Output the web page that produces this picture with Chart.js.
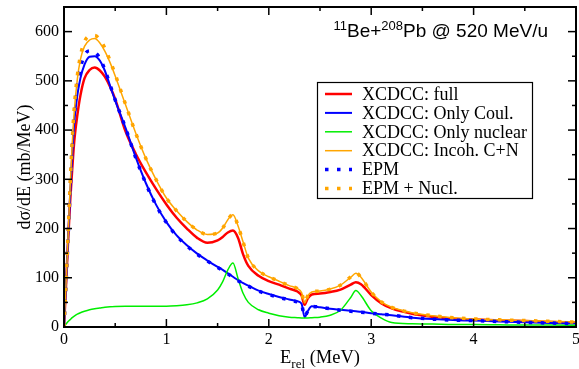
<!DOCTYPE html>
<html>
<head>
<meta charset="utf-8">
<script src="https://cdn.jsdelivr.net/npm/chart.js@4.4.1/dist/chart.umd.min.js"></script>
<style>
  html, body { margin: 0; padding: 0; background: #ffffff; }
  canvas { display: block; }
</style>
</head>
<body>
<canvas id="chart" width="579" height="369"></canvas>
<script>
// Relative energy grid (MeV)
const energies = [0, 0.02, 0.04, 0.06, 0.08, 0.1, 0.13, 0.16, 0.2, 0.25, 0.3,
  0.35, 0.4, 0.45, 0.5, 0.6, 0.7, 0.8, 0.9, 1.0, 1.1,
  1.2, 1.3, 1.4, 1.5, 1.55, 1.6, 1.65, 1.7, 1.75, 1.8,
  1.9, 2.0, 2.1, 2.2, 2.28, 2.32, 2.35, 2.38, 2.42, 2.5,
  2.6, 2.7, 2.8, 2.85, 2.9, 3.0, 3.1, 3.2, 3.4, 3.6,
  3.8, 4.0, 4.25, 4.5, 4.75, 5.0];

// dσ/dE (mb/MeV) for each calculation
const xcdccFull = [0, 85, 175, 255, 320, 377, 430, 470, 505, 522, 527,
  521, 508, 488, 463, 398, 352, 314, 280, 249, 222,
  200, 181, 171, 176, 183, 192, 196, 181, 147, 124,
  104, 93, 86, 78, 72, 64, 45, 58, 66, 68,
  71, 76, 86, 91, 87, 65, 48, 38, 27, 21,
  17, 15, 13, 12, 10, 9];

const xcdccCoulomb = [0, 87, 180, 270, 350, 415, 470, 505, 533, 549, 550,
  541, 520, 490, 460, 405, 345, 292, 248, 213, 186,
  166, 149, 135, 122, 116, 109, 102, 95, 89, 84,
  74, 67, 61, 56, 52, 47, 20, 32, 42, 40,
  37, 35, 33, 32, 31, 28, 26, 24, 19, 16,
  14, 13, 11, 9.5, 8, 7];

const xcdccNuclear = [0, 6, 11, 15, 19, 22, 26, 29, 32, 35, 37,
  38.5, 40, 41, 41.5, 42, 42, 42, 42, 42, 43,
  45, 49, 57, 75, 92, 116, 130, 98, 68, 50,
  35, 28, 23, 20, 19, 18.5, 18.5, 18.5, 19, 20,
  24, 34, 60, 74, 64, 33, 18, 9, 6.5, 6,
  5, 5, 4.5, 4, 4, 3.5];

const xcdccIncoherent = [0, 88, 185, 285, 370, 437, 503, 543, 570, 583, 586,
  577, 560, 537, 510, 452, 394, 342, 299, 262, 236,
  214, 197, 188, 191, 201, 218, 228, 205, 172, 140,
  114, 102, 93, 84, 78, 70, 49, 63, 71, 73,
  77, 85, 101, 109, 101, 71, 51, 40, 29, 23,
  19, 16.5, 14.5, 13, 11.5, 10];

const epm = [0, 87, 182, 275, 358, 425, 485, 525, 552, 561, 558,
  546, 522, 492, 461, 405, 344, 291, 247, 212, 185,
  165, 148, 134, 121, 115, 108, 101, 94, 88, 83,
  73, 66, 60, 55, 51, 46, 21, 32, 42, 40,
  37, 34, 32, 31, 30, 28, 26, 24, 19, 16,
  14, 13, 11, 9.5, 8, 7];

const epmNuclear = [0, 90, 188, 290, 378, 445, 510, 550, 580, 591, 592,
  584, 566, 541, 513, 453, 394, 342, 299, 262, 236,
  214, 197, 188, 191, 201, 218, 229, 205, 172, 140,
  114, 102, 93, 84, 78, 70, 50, 63, 71, 73,
  77, 85, 102, 110, 101, 71, 51, 40, 29, 23,
  19, 16.5, 14.5, 13, 11.5, 10];

const seriesLabels = ['XCDCC: full', 'XCDCC: Only Coul.', 'XCDCC: Only nuclear',
  'XCDCC: Incoh. C+N', 'EPM', 'EPM + Nucl.'];

const xTickValues = [0, 1, 2, 3, 4, 5];
const yTickValues = [0, 100, 200, 300, 400, 500, 600];

const SERIF = '"Liberation Serif", "Times New Roman", serif';
const SANS = '"Liberation Sans", Arial, sans-serif';

const seriesValues = [xcdccFull, xcdccCoulomb, xcdccNuclear, xcdccIncoherent, epm, epmNuclear];
const seriesStyles = [
  { color: '#ff0000', width: 2.5, dash: [] },
  { color: '#0000ff', width: 2, dash: [] },
  { color: '#00ee00', width: 1.5, dash: [] },
  { color: '#ffa500', width: 1.5, dash: [] },
  { color: '#0000ff', width: 3.5, dash: [3.5, 8.5] },
  { color: '#ffa500', width: 3.5, dash: [3.5, 8.5] }
];

const datasets = seriesValues.map((vals, i) => ({
  label: seriesLabels[i],
  data: energies.map((e, k) => ({ x: e, y: vals[k] })),
  borderColor: seriesStyles[i].color,
  borderWidth: seriesStyles[i].width,
  borderDash: seriesStyles[i].dash,
  borderCapStyle: 'butt',
  pointRadius: 0,
  fill: false,
  cubicInterpolationMode: 'monotone',
  order: seriesValues.length - i
}));

function midpoints(arr) {
  const out = [];
  for (let i = 0; i < arr.length - 1; i++) out.push((arr[i] + arr[i + 1]) / 2);
  return out;
}

// Frame with inward ticks on all four sides
const framePlugin = {
  id: 'frame',
  afterDatasetsDraw(chart) {
    const { ctx, chartArea: a, scales } = chart;
    const xs = scales.x, ys = scales.y;
    ctx.save();
    ctx.strokeStyle = '#000';
    ctx.lineWidth = 1.5;
    const tick = (x1, y1, x2, y2) => { ctx.beginPath(); ctx.moveTo(x1, y1); ctx.lineTo(x2, y2); ctx.stroke(); };
    const yMinor = midpoints(yTickValues).concat([650]);
    xTickValues.forEach(v => { const p = xs.getPixelForValue(v); tick(p, a.bottom, p, a.bottom - 8); tick(p, a.top, p, a.top + 8); });
    midpoints(xTickValues).forEach(v => { const p = xs.getPixelForValue(v); tick(p, a.bottom, p, a.bottom - 4); tick(p, a.top, p, a.top + 4); });
    yTickValues.forEach(v => { const p = ys.getPixelForValue(v); tick(a.left, p, a.left + 8, p); tick(a.right, p, a.right - 8, p); });
    yMinor.forEach(v => { const p = ys.getPixelForValue(v); tick(a.left, p, a.left + 4, p); tick(a.right, p, a.right - 4, p); });
    ctx.lineWidth = 2;
    ctx.strokeRect(a.left, a.top, a.right - a.left, a.bottom - a.top);
    ctx.restore();
  }
};

// Axis titles, reaction label and legend box
const annotationPlugin = {
  id: 'annotations',
  afterDraw(chart) {
    const { ctx, chartArea: a } = chart;
    ctx.save();
    ctx.fillStyle = '#000';
    ctx.textBaseline = 'alphabetic';

    // x-axis title: E_rel (MeV)
    const big = '18.5px ' + SERIF, small = '13px ' + SERIF;
    ctx.font = big; const wE = ctx.measureText('E').width; const wM = ctx.measureText(' (MeV)').width;
    ctx.font = small; const wR = ctx.measureText('rel').width;
    let x = (a.left + a.right) / 2 - (wE + wR + wM) / 2;
    const yb = 363;
    ctx.font = big; ctx.fillText('E', x, yb); x += wE;
    ctx.font = small; ctx.fillText('rel', x, yb + 5); x += wR;
    ctx.font = big; ctx.fillText(' (MeV)', x, yb);

    // y-axis title
    ctx.save();
    ctx.translate(30, (a.top + a.bottom) / 2);
    ctx.rotate(-Math.PI / 2);
    ctx.font = '18px ' + SERIF;
    ctx.textAlign = 'center';
    ctx.fillText('dσ/dE (mb/MeV)', 0, 0);
    ctx.restore();

    // reaction label with superscripted mass numbers
    const parts = [
      { t: '11', sup: true }, { t: 'Be+', sup: false },
      { t: '208', sup: true }, { t: 'Pb @ 520 MeV/u', sup: false }
    ];
    const fBig = '19px ' + SANS, fSup = '13px ' + SANS;
    let total = 0;
    parts.forEach(p => { ctx.font = p.sup ? fSup : fBig; p.w = ctx.measureText(p.t).width; total += p.w; });
    x = 548 - total;
    parts.forEach(p => {
      ctx.font = p.sup ? fSup : fBig;
      ctx.fillText(p.t, x, p.sup ? 30 : 37);
      x += p.w;
    });

    // legend
    const box = { x: 317.5, y: 82.5, w: 215, h: 116 };
    ctx.fillStyle = '#fff';
    ctx.fillRect(box.x, box.y, box.w, box.h);
    ctx.strokeStyle = '#000';
    ctx.lineWidth = 1.2;
    ctx.strokeRect(box.x, box.y, box.w, box.h);
    ctx.font = '18px ' + SERIF;
    ctx.textBaseline = 'middle';
    seriesLabels.forEach((label, i) => {
      const cy = 94 + i * 18.9;
      const st = seriesStyles[i];
      ctx.strokeStyle = st.color;
      ctx.lineWidth = Math.min(st.width, 3.5);
      ctx.setLineDash(st.dash);
      ctx.lineCap = 'butt';
      ctx.beginPath(); ctx.moveTo(325, cy); ctx.lineTo(352, cy); ctx.stroke();
      ctx.setLineDash([]);
      ctx.fillStyle = '#000';
      ctx.fillText(label, 362, cy + 1);
    });
    ctx.restore();
  }
};

new Chart(document.getElementById('chart'), {
  type: 'line',
  data: { datasets },
  options: {
    responsive: false,
    animation: false,
    devicePixelRatio: 1,
    layout: { padding: { top: 7, right: 3, left: 0, bottom: 0 } },
    plugins: { legend: { display: false }, tooltip: { enabled: false } },
    elements: { line: { tension: 0.4 } },
    scales: {
      x: {
        type: 'linear', min: 0, max: 5,
        afterBuildTicks: s => { s.ticks = xTickValues.map(v => ({ value: v })); },
        afterFit: s => { s.height = 42; s.paddingLeft = 0; s.paddingRight = 0; },
        grid: { display: false, drawTicks: false },
        border: { display: false },
        ticks: { color: '#000', font: { family: SERIF, size: 16 }, padding: 3, maxRotation: 0, autoSkip: false }
      },
      y: {
        type: 'linear', min: 0, max: 650,
        afterBuildTicks: s => { s.ticks = yTickValues.map(v => ({ value: v })); },
        afterFit: s => { s.width = 64; s.paddingTop = 0; s.paddingBottom = 0; },
        grid: { display: false, drawTicks: false },
        border: { display: false },
        ticks: { color: '#000', font: { family: SERIF, size: 16 }, padding: 5, autoSkip: false }
      }
    }
  },
  plugins: [framePlugin, annotationPlugin]
});
</script>
</body>
</html>
